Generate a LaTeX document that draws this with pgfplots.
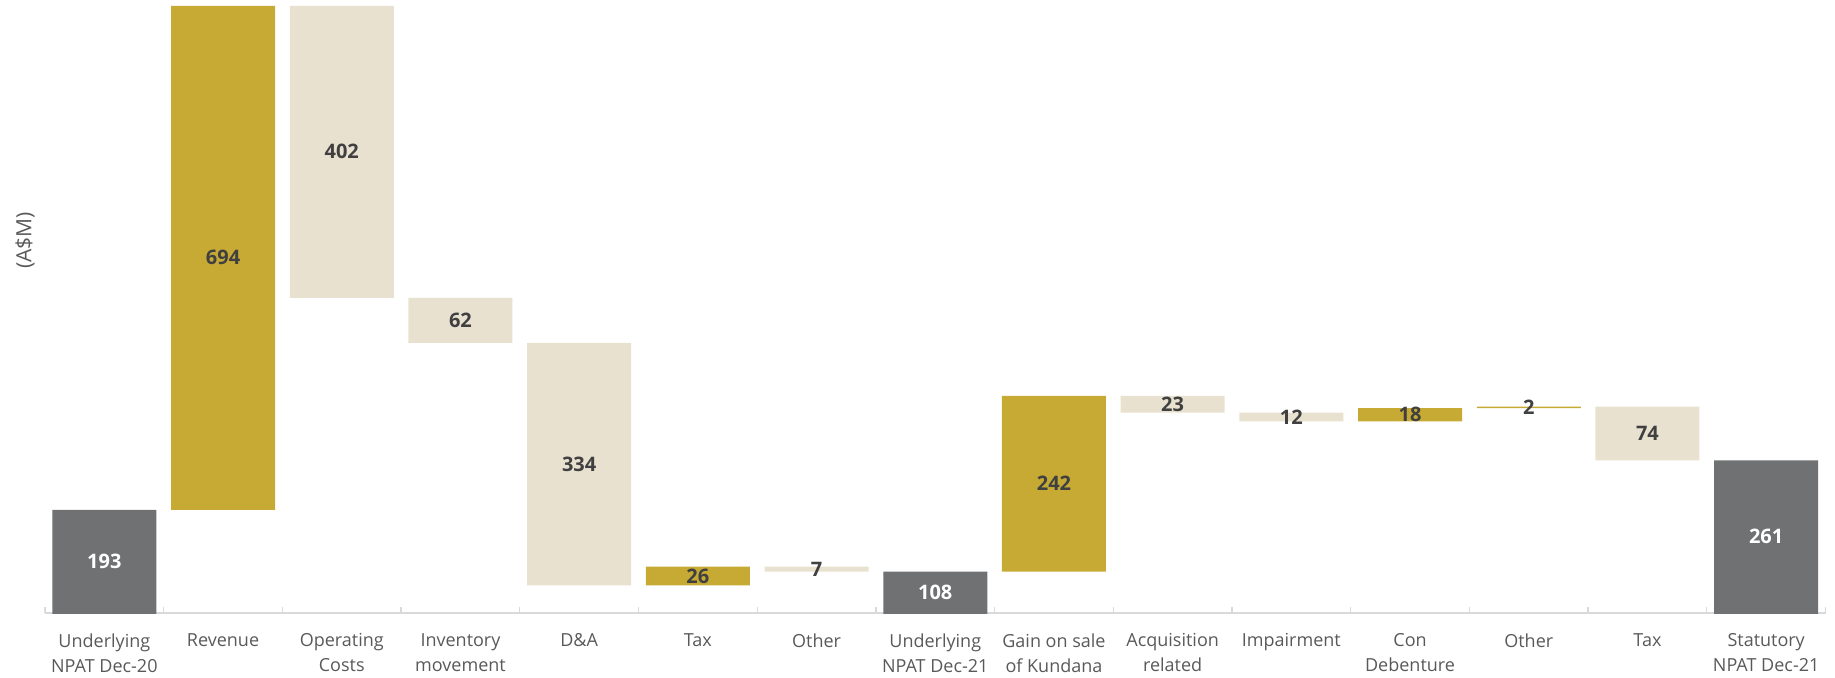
\documentclass[border=0pt]{standalone}
\usepackage{pgfplots}
\pgfplotsset{compat=1.18}
\usepackage{pgfplotstable}
\usepackage{fontspec}
\setmainfont{Open Sans}
\definecolor{gold}{HTML}{C6AA34}
\definecolor{beige}{HTML}{E9E1D0}
\definecolor{dgray}{HTML}{6F7172}
\definecolor{lblgray}{HTML}{404040}
\definecolor{txtgray}{HTML}{595959}
\definecolor{axgray}{HTML}{D9D9D9}

\pgfplotstableread{
x base tot pos neg
0 0 193 0 0
1 193 0 694 0
2 485 0 0 402
3 423 0 0 62
4 89 0 0 334
5 89 0 26 0
6 108 0 0 7
7 0 108 0 0
8 108 0 242 0
9 327 0 0 23
10 315 0 0 12
11 315 0 18 0
12 333 0 2 0
13 261 0 0 74
14 0 261 0 0
}\bars

\pgfplotstableread{
x y lab
1 540 694
2 686 402
3 454 62
4 256 334
5 102 26
6 111.5 7
8 229 242
9 338.5 23
10 321 12
11 324 18
12 334 2
13 298 74
}\darklabels

\pgfplotstableread{
x y lab
0 122 193
7 80 108
14 156 261
}\whitelabels

\pgfplotsset{wf/.style={width=1780.5pt, height=613pt, scale only axis,
  xmin=-0.5, xmax=14.5, ymin=51, ymax=895, at={(45pt,64pt)}, anchor=south west}}

\begin{document}
\begin{tikzpicture}
\begin{axis}[wf, ybar stacked, bar width=104pt,
  axis x line*=bottom, axis y line*=left,
  y axis line style={draw=none}, ytick=\empty,
  x axis line style={axgray, line width=1.3pt, -},
  xtick={0,...,14},
  xticklabels={{Underlying\\NPAT Dec-20},Revenue,{Operating\\Costs},{Inventory\\movement},D\&A,Tax,Other,{Underlying\\NPAT Dec-21},{Gain on sale\\of Kundana},{Acquisition\\related},Impairment,{Con\\Debenture},Other,Tax,{Statutory\\NPAT Dec-21}},
  major tick length=0pt,
  minor xtick={-0.5,0.5,...,14.5},
  minor tick length=6pt, tick align=inside,
  minor tick style={axgray, line width=1.3pt},
  xticklabel style={font=\fontsize{18}{25}\selectfont, text=txtgray, align=center, anchor=north, yshift=-17pt},
  ylabel={(A\$M)},
  ylabel style={at={(axis description cs:-0.0112,0.608)}, anchor=center, font=\fontsize{21}{24}\selectfont, text=txtgray},
]
\addplot[fill=none, draw=none] table[x=x,y=base]{\bars};
\addplot[fill=dgray, draw=none] table[x=x,y=tot]{\bars};
\addplot[fill=gold, draw=none] table[x=x,y=pos]{\bars};
\addplot[fill=beige, draw=none] table[x=x,y=neg]{\bars};
\end{axis}
\begin{axis}[wf, hide axis]
\addplot[only marks, mark=none, nodes near coords, point meta=explicit symbolic,
  nodes near coords align=center,
  every node near coord/.append style={font=\fontsize{20}{24}\selectfont\bfseries, text=lblgray, anchor=center}]
  table[x=x,y=y,meta=lab]{\darklabels};
\addplot[only marks, mark=none, nodes near coords, point meta=explicit symbolic,
  nodes near coords align=center,
  every node near coord/.append style={font=\fontsize{20}{24}\selectfont\bfseries, text=white, anchor=center}]
  table[x=x,y=y,meta=lab]{\whitelabels};
\end{axis}
\pgfresetboundingbox
\useasboundingbox (0,0) rectangle (1835pt,677pt);
\end{tikzpicture}
\end{document}
